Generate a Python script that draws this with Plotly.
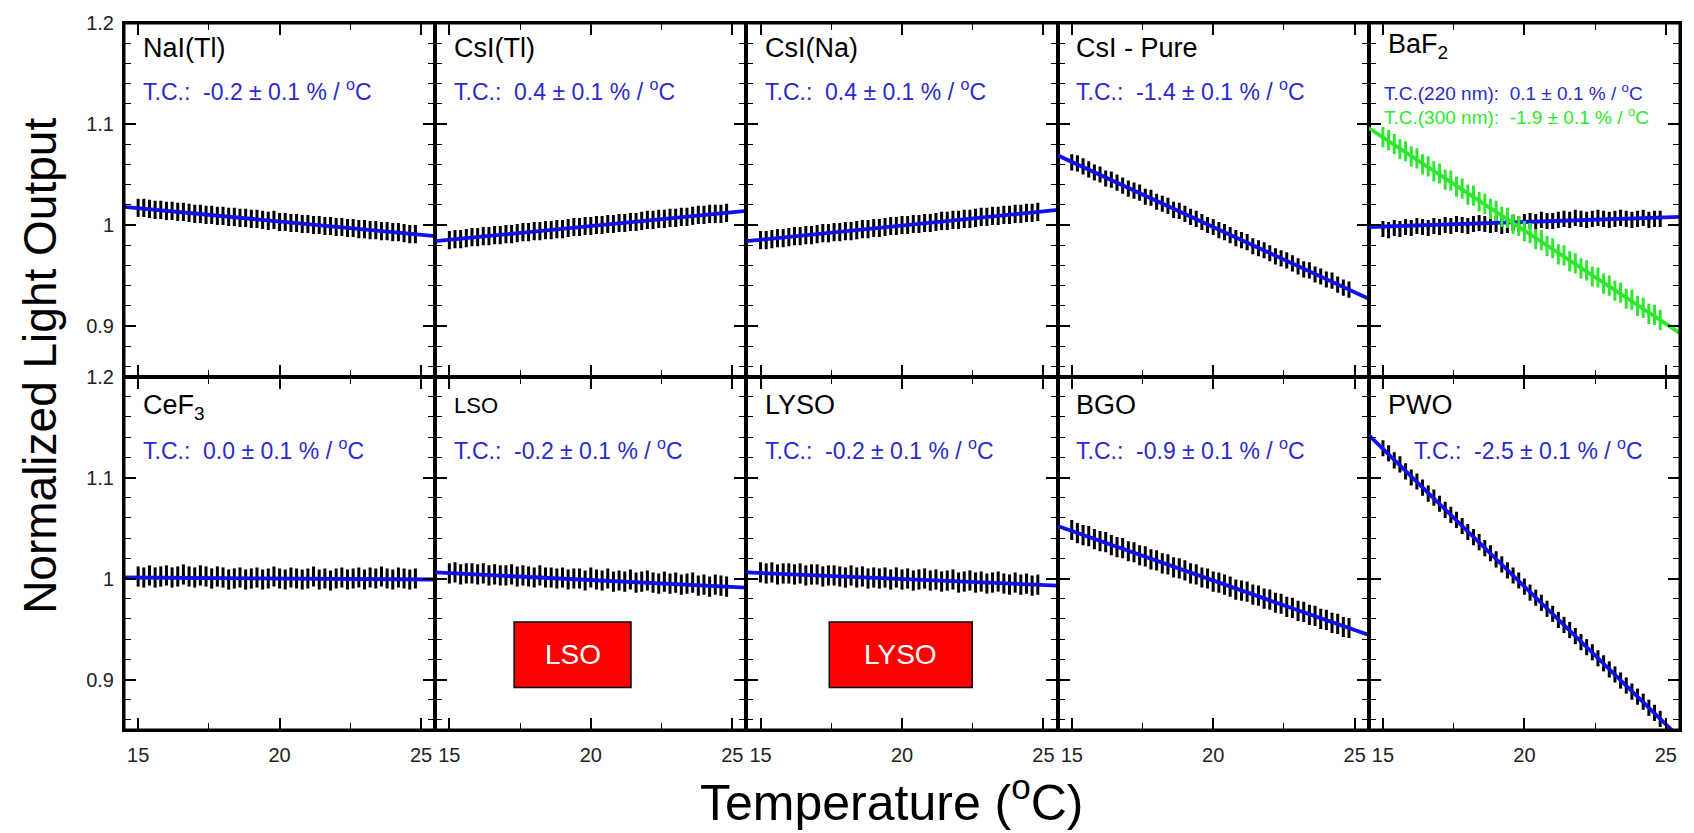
import plotly.graph_objects as go
from plotly.subplots import make_subplots

# ---------------- data ----------------
temperature = [15.0, 15.2, 15.4, 15.6, 15.8, 16.0, 16.2, 16.4, 16.6, 16.8,
               17.0, 17.2, 17.4, 17.6, 17.8, 18.0, 18.2, 18.4, 18.6, 18.8,
               19.0, 19.2, 19.4, 19.6, 19.8, 20.0, 20.2, 20.4, 20.6, 20.8,
               21.0, 21.2, 21.4, 21.6, 21.8, 22.0, 22.2, 22.4, 22.6, 22.8,
               23.0, 23.2, 23.4, 23.6, 23.8, 24.0, 24.2, 24.4, 24.6, 24.8]

crystals = ["NaI(Tl)", "CsI(Tl)", "CsI(Na)", "CsI - Pure", "BaF<sub>2</sub>",
            "CeF<sub>3</sub>", "LSO", "LYSO", "BGO", "PWO"]

tc_text = ["T.C.:  -0.2 \u00b1 0.1 % / <sup>o</sup>C",
           "T.C.:  0.4 \u00b1 0.1 % / <sup>o</sup>C",
           "T.C.:  0.4 \u00b1 0.1 % / <sup>o</sup>C",
           "T.C.:  -1.4 \u00b1 0.1 % / <sup>o</sup>C",
           "T.C.(220 nm):  0.1 \u00b1 0.1 % / <sup>o</sup>C",
           "T.C.:  0.0 \u00b1 0.1 % / <sup>o</sup>C",
           "T.C.:  -0.2 \u00b1 0.1 % / <sup>o</sup>C",
           "T.C.:  -0.2 \u00b1 0.1 % / <sup>o</sup>C",
           "T.C.:  -0.9 \u00b1 0.1 % / <sup>o</sup>C",
           "T.C.:  -2.5 \u00b1 0.1 % / <sup>o</sup>C"]
tc_text_baf2_300 = "T.C.(300 nm):  -1.9 \u00b1 0.1 % / <sup>o</sup>C"

light_nai = [1.017, 1.017, 1.016, 1.015, 1.015, 1.014, 1.014, 1.013, 1.013, 1.012,
             1.011, 1.011, 1.010, 1.010, 1.009, 1.009, 1.008, 1.008, 1.007, 1.007,
             1.006, 1.006, 1.005, 1.004, 1.005, 1.003, 1.003, 1.002, 1.002, 1.001,
             1.001, 1.000, 1.000, 0.999, 0.999, 0.998, 0.998, 0.997, 0.997, 0.996,
             0.996, 0.995, 0.995, 0.994, 0.994, 0.993, 0.993, 0.992, 0.991, 0.991]
light_csitl = [0.985, 0.986, 0.986, 0.987, 0.988, 0.988, 0.989, 0.989, 0.990, 0.990,
               0.991, 0.991, 0.992, 0.993, 0.993, 0.994, 0.994, 0.995, 0.995, 0.996,
               0.996, 0.997, 0.998, 0.998, 0.999, 0.999, 1.000, 1.000, 1.001, 1.001,
               1.002, 1.002, 1.003, 1.003, 1.004, 1.005, 1.005, 1.006, 1.006, 1.007,
               1.007, 1.008, 1.008, 1.009, 1.010, 1.010, 1.011, 1.011, 1.011, 1.012]
light_csina = [0.985, 0.985, 0.986, 0.987, 0.987, 0.988, 0.989, 0.989, 0.990, 0.990,
               0.991, 0.992, 0.992, 0.993, 0.993, 0.994, 0.994, 0.995, 0.996, 0.996,
               0.997, 0.997, 0.998, 0.999, 0.999, 1.000, 1.000, 1.001, 1.001, 1.002,
               1.002, 1.003, 1.004, 1.004, 1.005, 1.005, 1.006, 1.006, 1.007, 1.008,
               1.008, 1.009, 1.009, 1.010, 1.010, 1.011, 1.011, 1.012, 1.012, 1.013]
light_csipure = [1.062, 1.061, 1.058, 1.055, 1.052, 1.050, 1.046, 1.045, 1.042, 1.039,
                 1.036, 1.034, 1.032, 1.028, 1.027, 1.023, 1.021, 1.019, 1.015, 1.014,
                 1.011, 1.008, 1.006, 1.003, 1.000, 0.998, 0.995, 0.993, 0.990, 0.987,
                 0.985, 0.983, 0.979, 0.977, 0.975, 0.972, 0.969, 0.967, 0.965, 0.962,
                 0.959, 0.956, 0.955, 0.951, 0.949, 0.946, 0.945, 0.941, 0.938, 0.936]
light_baf2_220 = [0.996, 0.995, 0.997, 0.996, 0.998, 0.997, 0.999, 0.998, 0.997, 0.999,
                  0.998, 1.000, 0.999, 1.001, 1.000, 0.999, 1.001, 1.002, 1.001, 1.000,
                  1.001, 0.999, 1.000, 1.002, 1.001, 1.003, 1.004, 1.003, 1.005, 1.004,
                  1.004, 1.005, 1.006, 1.005, 1.007, 1.006, 1.005, 1.006, 1.007, 1.006,
                  1.005, 1.006, 1.007, 1.006, 1.005, 1.006, 1.007, 1.005, 1.006, 1.006]
light_baf2_300 = [1.087, 1.084, 1.080, 1.075, 1.073, 1.068, 1.066, 1.060, 1.058, 1.053,
                  1.051, 1.045, 1.044, 1.038, 1.036, 1.030, 1.029, 1.023, 1.021, 1.016,
                  1.014, 1.008, 1.007, 1.001, 0.999, 0.994, 0.992, 0.986, 0.985, 0.979,
                  0.977, 0.971, 0.970, 0.964, 0.962, 0.957, 0.955, 0.949, 0.948, 0.942,
                  0.940, 0.935, 0.933, 0.927, 0.926, 0.920, 0.918, 0.912, 0.911, 0.906]
light_cef3 = [1.002, 1.001, 1.003, 1.001, 1.002, 1.003, 1.001, 1.002, 1.004, 1.002,
              1.001, 1.003, 1.002, 1.000, 1.002, 1.001, 0.999, 1.000, 1.001, 0.999,
              1.000, 1.001, 0.999, 1.000, 1.002, 1.000, 0.999, 1.001, 1.000, 0.999,
              1.000, 1.002, 0.999, 1.000, 0.998, 1.000, 1.001, 0.999, 1.000, 1.001,
              0.999, 1.001, 1.000, 1.002, 1.000, 0.999, 1.001, 1.000, 0.999, 1.000]
light_lso = [1.005, 1.006, 1.004, 1.005, 1.005, 1.004, 1.005, 1.003, 1.004, 1.003,
             1.003, 1.004, 1.002, 1.003, 1.002, 1.001, 1.003, 1.001, 1.001, 1.000,
             1.001, 0.999, 1.000, 1.000, 0.998, 1.001, 0.999, 0.998, 1.000, 0.997,
             0.998, 0.997, 0.999, 0.996, 0.997, 0.998, 0.996, 0.995, 0.997, 0.995,
             0.996, 0.994, 0.995, 0.996, 0.993, 0.994, 0.992, 0.994, 0.993, 0.992]
light_lyso = [1.006, 1.005, 1.006, 1.004, 1.005, 1.005, 1.004, 1.005, 1.003, 1.004,
              1.004, 1.002, 1.003, 1.003, 1.002, 1.001, 1.003, 1.001, 1.002, 1.000,
              1.001, 1.000, 1.001, 0.999, 1.001, 0.999, 1.000, 0.998, 0.999, 1.000,
              0.998, 0.999, 0.997, 0.998, 0.999, 0.996, 0.997, 0.998, 0.996, 0.997,
              0.995, 0.996, 0.997, 0.995, 0.994, 0.996, 0.994, 0.995, 0.993, 0.994]
light_bgo = [1.048, 1.045, 1.043, 1.042, 1.039, 1.037, 1.036, 1.033, 1.031, 1.030,
             1.027, 1.026, 1.023, 1.022, 1.019, 1.018, 1.015, 1.014, 1.011, 1.010,
             1.008, 1.005, 1.004, 1.001, 1.000, 0.997, 0.996, 0.994, 0.992, 0.989,
             0.988, 0.987, 0.984, 0.983, 0.980, 0.979, 0.976, 0.975, 0.972, 0.971,
             0.968, 0.967, 0.964, 0.963, 0.960, 0.959, 0.956, 0.955, 0.952, 0.951]
light_pwo = [1.129, 1.124, 1.117, 1.113, 1.106, 1.100, 1.096, 1.090, 1.084, 1.080,
             1.074, 1.068, 1.063, 1.058, 1.052, 1.046, 1.041, 1.036, 1.030, 1.025,
             1.019, 1.014, 1.008, 1.003, 0.998, 0.992, 0.986, 0.981, 0.976, 0.970,
             0.965, 0.959, 0.954, 0.949, 0.943, 0.937, 0.932, 0.927, 0.921, 0.916,
             0.910, 0.905, 0.899, 0.894, 0.888, 0.883, 0.878, 0.872, 0.867, 0.861]

light_series = [light_nai, light_csitl, light_csina, light_csipure, light_baf2_220,
                light_cef3, light_lso, light_lyso, light_bgo, light_pwo]
light_errors = [0.009, 0.009, 0.009, 0.008, 0.008, 0.010, 0.010, 0.010, 0.010, 0.008]
baf2_300_error = 0.010

# linear fits, evaluated at the ends of the temperature window
fit_temperature = [14.5, 25.5]
fit_start = [1.018, 0.984, 0.984, 1.069, 0.998, 1.001, 1.006, 1.006, 1.052, 1.142]
fit_end = [0.989, 1.014, 1.015, 0.927, 1.008, 0.999, 0.991, 0.993, 0.944, 0.842]
fit_baf2_300 = [1.096, 0.893]

x_ticks = [15, 20, 25]
y_ticks = [0.9, 1.0, 1.1, 1.2]
y_tick_text = ["0.9", "1", "1.1", "1.2"]

# ---------------- styling ----------------
FONT = "Liberation Sans, Arial, Helvetica, sans-serif"
BLUE_LINE = "#1212e8"
BLUE_TEXT = "#2a2acc"
GREEN = "#2ee82e"

fig = make_subplots(rows=2, cols=5, horizontal_spacing=0, vertical_spacing=0)

for i in range(10):
    row, col = i // 5 + 1, i % 5 + 1
    fig.add_trace(go.Scatter(
        x=temperature, y=light_series[i], mode="markers",
        marker=dict(color="black", size=3),
        error_y=dict(type="constant", value=light_errors[i], color="black",
                     thickness=3, width=0),
        hoverinfo="skip"), row=row, col=col)
    fig.add_trace(go.Scatter(
        x=fit_temperature, y=[fit_start[i], fit_end[i]], mode="lines",
        line=dict(color=BLUE_LINE, width=3.8), hoverinfo="skip"), row=row, col=col)
    if i == 4:
        fig.add_trace(go.Scatter(
            x=temperature, y=light_baf2_300, mode="markers",
            marker=dict(color=GREEN, size=3),
            error_y=dict(type="constant", value=baf2_300_error, color=GREEN,
                         thickness=3, width=0),
            hoverinfo="skip"), row=row, col=col)
        fig.add_trace(go.Scatter(
            x=fit_temperature, y=fit_baf2_300, mode="lines",
            line=dict(color=GREEN, width=3.8), hoverinfo="skip"), row=row, col=col)

annotations = []
for i in range(10):
    ax = "" if i == 0 else str(i + 1)
    top = i < 5
    has_sub = "<sub>" in crystals[i]
    if has_sub:
        name_y = 0.935 if top else 0.913
    else:
        name_y = 0.928 if top else 0.918
    name_size = 22 if crystals[i] == "LSO" else 27
    annotations.append(dict(
        text=crystals[i], xref=f"x{ax} domain", yref=f"y{ax} domain",
        x=0.054, y=name_y, xanchor="left", yanchor="middle", showarrow=False,
        font=dict(family=FONT, size=name_size, color="black")))
    if i == 4:
        annotations.append(dict(
            text=tc_text[i], xref=f"x{ax} domain", yref=f"y{ax} domain",
            x=0.042, y=0.806, xanchor="left", yanchor="middle", showarrow=False,
            font=dict(family=FONT, size=19, color=BLUE_TEXT)))
        annotations.append(dict(
            text=tc_text_baf2_300, xref=f"x{ax} domain", yref=f"y{ax} domain",
            x=0.042, y=0.736, xanchor="left", yanchor="middle", showarrow=False,
            font=dict(family=FONT, size=19, color=GREEN)))
    else:
        tx = 0.138 if i == 9 else 0.054
        annotations.append(dict(
            text=tc_text[i], xref=f"x{ax} domain", yref=f"y{ax} domain",
            x=tx, y=0.81 if top else 0.795, xanchor="left", yanchor="middle",
            showarrow=False,
            font=dict(family=FONT, size=23, color=BLUE_TEXT)))

# red labels in the LSO and LYSO panels
boxes = [("x7", "y7", 17.29, 21.42, "LSO"), ("x8", "y8", 17.43, 22.48, "LYSO")]
shapes = []
for xr, yr, x0, x1, label in boxes:
    shapes.append(dict(type="rect", xref=xr, yref=yr, x0=x0, x1=x1, y0=0.892, y1=0.957,
                       fillcolor="#ff0000", line=dict(color="black", width=1.5),
                       layer="above"))
    annotations.append(dict(text=label, xref=xr, yref=yr, x=(x0 + x1) / 2, y=0.9245,
                            xanchor="center", yanchor="middle", showarrow=False,
                            font=dict(family=FONT, size=28, color="white")))

# outer frame
shapes.append(dict(type="rect", xref="paper", yref="paper", x0=0, x1=1, y0=0, y1=1,
                   line=dict(color="black", width=3), fillcolor="rgba(0,0,0,0)",
                   layer="above"))

# axis titles
annotations.append(dict(text="Normalized Light Output", xref="paper", yref="paper",
                        x=-0.054, y=0.515, xanchor="center", yanchor="middle",
                        textangle=-90, showarrow=False,
                        font=dict(family=FONT, size=46, color="black")))
annotations.append(dict(text="Temperature (<sup>o</sup>C)", xref="paper", yref="paper",
                        x=0.493, y=-0.097, xanchor="center", yanchor="middle",
                        showarrow=False,
                        font=dict(family=FONT, size=50, color="black")))

fig.update_xaxes(range=[14.5, 25.5], tickmode="array", tickvals=x_ticks,
                 ticks="inside", ticklen=12, tickwidth=1.5, tickcolor="black",
                 minor=dict(ticks="inside", ticklen=7, tickwidth=1.2, tickcolor="black",
                            tick0=15, dtick=2.5),
                 showline=True, linewidth=2, linecolor="black", mirror="ticks",
                 showgrid=False, zeroline=False, showticklabels=False,
                 tickfont=dict(family=FONT, size=20, color="#222222"),
                 ticklabelstandoff=6)
fig.update_xaxes(showticklabels=True, row=2)
fig.update_yaxes(range=[0.85, 1.2], tickmode="array", tickvals=y_ticks,
                 ticktext=y_tick_text,
                 ticks="inside", ticklen=12, tickwidth=1.5, tickcolor="black",
                 minor=dict(ticks="inside", ticklen=7, tickwidth=1.2, tickcolor="black",
                            tick0=0.9, dtick=0.02),
                 showline=True, linewidth=2, linecolor="black", mirror="ticks",
                 showgrid=False, zeroline=False, showticklabels=False,
                 tickfont=dict(family=FONT, size=20, color="#222222"),
                 ticklabelstandoff=4)
fig.update_yaxes(showticklabels=True, col=1)

fig.update_layout(width=1694, height=833,
                  margin=dict(l=124, r=12, t=16, b=103),
                  paper_bgcolor="white", plot_bgcolor="white",
                  showlegend=False, annotations=annotations, shapes=shapes,
                  font=dict(family=FONT))

fig.write_html("out.html", config={"displayModeBar": False},
               post_script="document.body.style.margin='0px';document.body.style.overflow='hidden';")
